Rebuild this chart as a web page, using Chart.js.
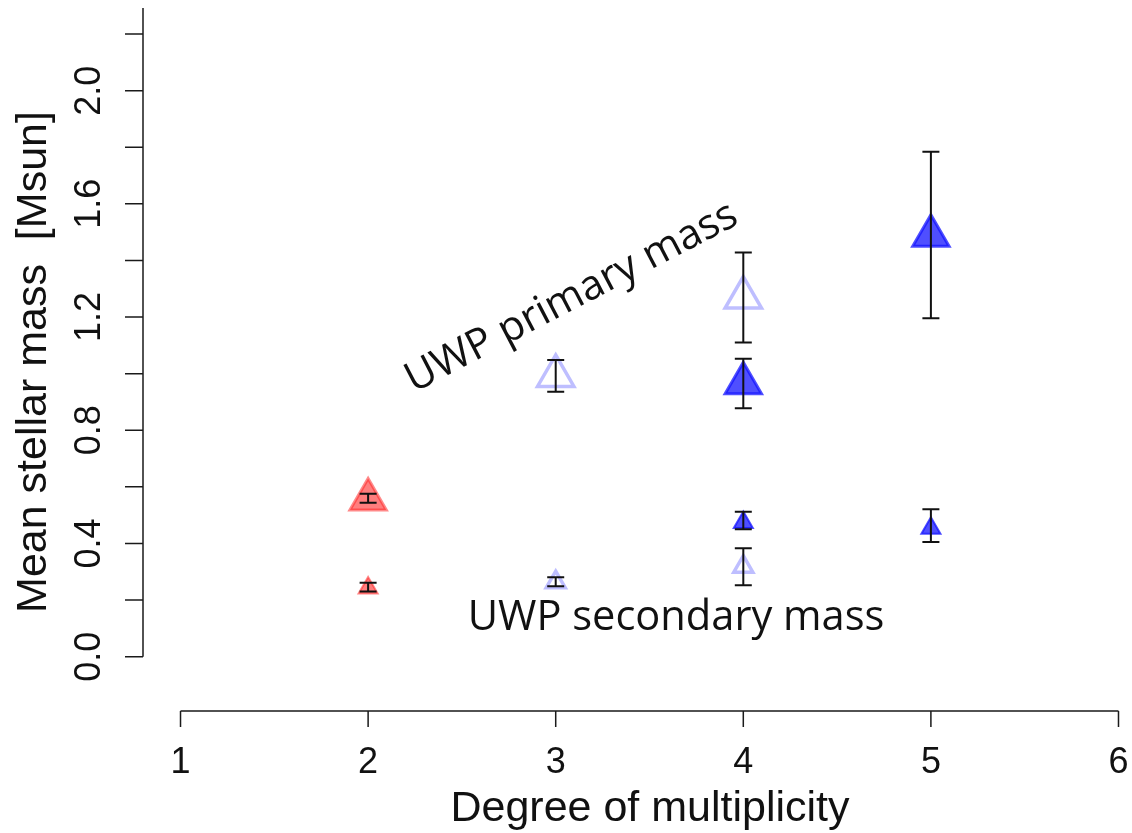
<!DOCTYPE html>
<html>
<head>
<meta charset="utf-8">
<script src="https://cdn.jsdelivr.net/npm/chart.js@4.4.1/dist/chart.umd.min.js"></script>
<style>
  html, body { margin: 0; padding: 0; background: #fff; }
  canvas { display: block; }
</style>
</head>
<body>
<canvas id="massChart" width="1132" height="833"></canvas>
<script>
// axis ticks
const xTicks = [1, 2, 3, 4, 5, 6];
const yTicks = [0, 0.2, 0.4, 0.6, 0.8, 1.0, 1.2, 1.4, 1.6, 1.8, 2.0, 2.2];
const yTickLabels = ['0.0', '', '0.4', '', '0.8', '', '1.2', '', '1.6', '', '2.0', ''];

// binaries (red)
const redX = [2];
const redPrimary = [0.555];
const redPrimaryLo = [0.544];
const redPrimaryHi = [0.576];
const redSecondary = [0.243];
const redSecondaryLo = [0.230];
const redSecondaryHi = [0.261];

// light blue (open) systems
const lightX = [3, 4];
const lightPrimary = [0.992, 1.269];
const lightPrimaryLo = [0.936, 1.110];
const lightPrimaryHi = [1.048, 1.428];
const lightSecondary = [0.263, 0.318];
const lightSecondaryLo = [0.249, 0.252];
const lightSecondaryHi = [0.281, 0.383];

// blue (filled) systems
const blueX = [4, 5];
const bluePrimary = [0.966, 1.487];
const bluePrimaryLo = [0.878, 1.196];
const bluePrimaryHi = [1.053, 1.784];
const blueSecondary = [0.474, 0.454];
const blueSecondaryLo = [0.450, 0.405];
const blueSecondaryHi = [0.512, 0.521];

const toPoints = (xs, ys) => xs.map((x, i) => ({ x: x, y: ys[i] }));

const makeSet = (label, xs, ys, lo, hi, fill, border, radius, bw) => ({
    label: label,
    data: toPoints(xs, ys),
    errLo: lo,
    errHi: hi,
    pointStyle: 'triangle',
    pointRadius: radius,
    pointHoverRadius: radius,
    pointBackgroundColor: fill,
    pointBorderColor: border,
    pointBorderWidth: bw,
    showLine: false
});

const datasets = [
    makeSet('red primary', redX, redPrimary, redPrimaryLo, redPrimaryHi, 'rgba(255,40,40,0.6)', 'rgba(255,40,40,0.55)', 21, 3),
    makeSet('red secondary', redX, redSecondary, redSecondaryLo, redSecondaryHi, 'rgba(255,40,40,0.6)', 'rgba(255,40,40,0.55)', 11, 2),
    makeSet('light primary', lightX, lightPrimary, lightPrimaryLo, lightPrimaryHi, 'rgba(255,255,255,0)', 'rgba(70,70,255,0.35)', 21, 3.5),
    makeSet('light secondary', lightX, lightSecondary, lightSecondaryLo, lightSecondaryHi, 'rgba(255,255,255,0)', 'rgba(70,70,255,0.35)', 11, 3.5),
    makeSet('blue primary', blueX, bluePrimary, bluePrimaryLo, bluePrimaryHi, 'rgba(20,20,255,0.75)', 'rgba(20,20,255,0.75)', 21, 3),
    makeSet('blue secondary', blueX, blueSecondary, blueSecondaryLo, blueSecondaryHi, 'rgba(20,20,255,0.75)', 'rgba(20,20,255,0.75)', 11, 2)
];

// error bars drawn on top of the triangles
const errorBars = {
    id: 'errorBars',
    afterDatasetsDraw(chart) {
        const ctx = chart.ctx;
        const xs = chart.scales.x, ys = chart.scales.y;
        ctx.save();
        ctx.strokeStyle = '#111';
        ctx.lineWidth = 2;
        chart.data.datasets.forEach(ds => {
            ds.data.forEach((p, i) => {
                const px = xs.getPixelForValue(p.x);
                const yl = ys.getPixelForValue(ds.errLo[i]);
                const yh = ys.getPixelForValue(ds.errHi[i]);
                ctx.beginPath();
                ctx.moveTo(px, yl); ctx.lineTo(px, yh);
                ctx.moveTo(px - 8.5, yl); ctx.lineTo(px + 8.5, yl);
                ctx.moveTo(px - 8.5, yh); ctx.lineTo(px + 8.5, yh);
                ctx.stroke();
            });
        });
        ctx.restore();
    }
};

// R style detached axes, titles and annotations
const rAxes = {
    id: 'rAxes',
    afterDraw(chart) {
        const ctx = chart.ctx;
        const xs = chart.scales.x, ys = chart.scales.y;
        const area = chart.chartArea;
        ctx.save();
        ctx.strokeStyle = '#1a1a1a';
        ctx.lineWidth = 1.5;

        // x axis
        const ay = area.bottom;
        ctx.beginPath();
        ctx.moveTo(xs.getPixelForValue(xTicks[0]), ay);
        ctx.lineTo(xs.getPixelForValue(xTicks[xTicks.length - 1]), ay);
        xTicks.forEach(v => {
            const px = xs.getPixelForValue(v);
            ctx.moveTo(px, ay);
            ctx.lineTo(px, ay + 16);
        });
        ctx.stroke();

        // y axis
        const ax = area.left;
        ctx.beginPath();
        ctx.moveTo(ax, ys.getPixelForValue(yTicks[0]));
        ctx.lineTo(ax, area.top);
        yTicks.forEach(v => {
            const py = ys.getPixelForValue(v);
            ctx.moveTo(ax, py);
            ctx.lineTo(ax - 18, py);
        });
        ctx.stroke();

        // tick labels
        ctx.fillStyle = '#111';
        ctx.font = '36px "Liberation Sans", Arial, sans-serif';
        ctx.textAlign = 'center';
        ctx.textBaseline = 'alphabetic';
        xTicks.forEach(v => {
            ctx.fillText(String(v), xs.getPixelForValue(v), 773);
        });
        yTicks.forEach((v, i) => {
            if (!yTickLabels[i]) return;
            ctx.save();
            ctx.translate(100, ys.getPixelForValue(v));
            ctx.rotate(-Math.PI / 2);
            ctx.fillText(yTickLabels[i], 0, 0);
            ctx.restore();
        });

        // axis titles
        ctx.font = '43px "Liberation Sans", Arial, sans-serif';
        ctx.fillText('Degree of multiplicity', 650, 821);
        ctx.save();
        ctx.translate(46, 362);
        ctx.rotate(-Math.PI / 2);
        ctx.fillText('Mean stellar mass  [Msun]', 0, 0);
        ctx.restore();

        // annotations
        const fitFont = (text, width) => {
            ctx.font = '40px "Open Sans", sans-serif';
            const size = 40 * width / ctx.measureText(text).width;
            ctx.font = size.toFixed(1) + 'px "Open Sans", sans-serif';
        };
        fitFont('UWP secondary mass', 417);
        ctx.fillText('UWP secondary mass', 676, 630);

        fitFont('UWP primary mass', 368);
        ctx.save();
        ctx.translate(577, 308);
        ctx.rotate(-27.5 * Math.PI / 180);
        ctx.fillText('UWP primary mass', 0, 0);
        ctx.restore();

        ctx.restore();
    }
};

const ctxEl = document.getElementById('massChart');
const chart = new Chart(ctxEl, {
    type: 'scatter',
    data: { datasets: datasets },
    options: {
        responsive: false,
        animation: false,
        events: [],
        layout: {
            autoPadding: false,
            padding: { left: 143, top: 8, right: 0, bottom: 122 }
        },
        plugins: {
            legend: { display: false },
            tooltip: { enabled: false }
        },
        scales: {
            x: { type: 'linear', min: 0.8, max: 6.072, display: false },
            y: { type: 'linear', min: -0.192, max: 2.292, display: false }
        }
    },
    plugins: [errorBars, rAxes]
});
</script>
</body>
</html>
